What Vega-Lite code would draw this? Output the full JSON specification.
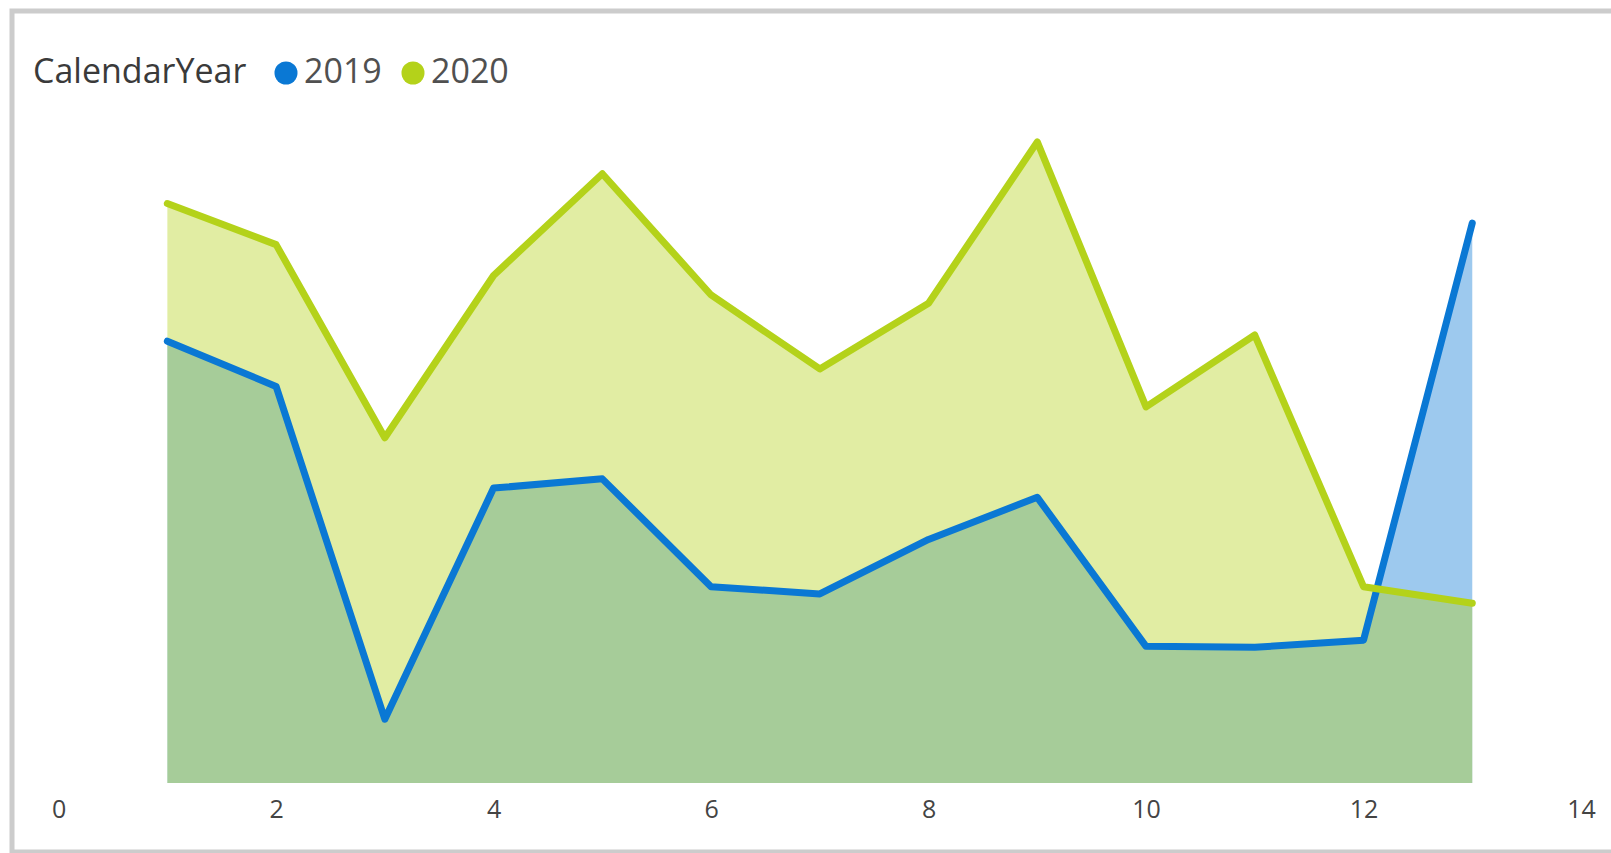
{
  "$schema": "https://vega.github.io/schema/vega-lite/v6.json",
  "width": 1605,
  "height": 841,
  "autosize": {"type": "none"},
  "padding": {"left": 12, "top": 11, "right": -6, "bottom": 1},
  "background": "#ffffff",
  "config": {
    "font": "Open Sans",
    "view": {"stroke": "#cccccc", "strokeWidth": 5}
  },
  "data": {
    "values": [
      {"Month": 1, "CalendarYear": "2019", "Sales": 430},
      {"Month": 2, "CalendarYear": "2019", "Sales": 386},
      {"Month": 3, "CalendarYear": "2019", "Sales": 62},
      {"Month": 4, "CalendarYear": "2019", "Sales": 287},
      {"Month": 5, "CalendarYear": "2019", "Sales": 296},
      {"Month": 6, "CalendarYear": "2019", "Sales": 191},
      {"Month": 7, "CalendarYear": "2019", "Sales": 184},
      {"Month": 8, "CalendarYear": "2019", "Sales": 237},
      {"Month": 9, "CalendarYear": "2019", "Sales": 278},
      {"Month": 10, "CalendarYear": "2019", "Sales": 133},
      {"Month": 11, "CalendarYear": "2019", "Sales": 132},
      {"Month": 12, "CalendarYear": "2019", "Sales": 139},
      {"Month": 13, "CalendarYear": "2019", "Sales": 545},
      {"Month": 1, "CalendarYear": "2020", "Sales": 564},
      {"Month": 2, "CalendarYear": "2020", "Sales": 524},
      {"Month": 3, "CalendarYear": "2020", "Sales": 336},
      {"Month": 4, "CalendarYear": "2020", "Sales": 494},
      {"Month": 5, "CalendarYear": "2020", "Sales": 593},
      {"Month": 6, "CalendarYear": "2020", "Sales": 475},
      {"Month": 7, "CalendarYear": "2020", "Sales": 403},
      {"Month": 8, "CalendarYear": "2020", "Sales": 467},
      {"Month": 9, "CalendarYear": "2020", "Sales": 624},
      {"Month": 10, "CalendarYear": "2020", "Sales": 366},
      {"Month": 11, "CalendarYear": "2020", "Sales": 436},
      {"Month": 12, "CalendarYear": "2020", "Sales": 191},
      {"Month": 13, "CalendarYear": "2020", "Sales": 175}
    ]
  },
  "encoding": {
    "x": {
      "field": "Month",
      "type": "quantitative",
      "scale": {"domain": [-0.4286, 14.331], "nice": false, "zero": false},
      "axis": {
        "title": null,
        "values": [0, 2, 4, 6, 8, 10, 12, 14],
        "grid": false,
        "domain": false,
        "ticks": false,
        "offset": -55,
        "labelPadding": 0,
        "labelFontSize": 25,
        "labelColor": "#444444",
        "labelFont": "Open Sans",
        "labelFlush": false
      }
    },
    "y": {
      "field": "Sales",
      "type": "quantitative",
      "stack": null,
      "scale": {"domain": [-67.2, 751.4], "nice": false, "zero": false},
      "axis": null
    },
    "color": {
      "field": "CalendarYear",
      "type": "nominal",
      "scale": {"domain": ["2019", "2020"], "range": ["#0A78D4", "#B4D21A"]},
      "legend": {
        "orient": "none",
        "legendX": 21,
        "legendY": 45,
        "direction": "horizontal",
        "titleOrient": "left",
        "title": "CalendarYear",
        "titleLimit": 500,
        "titleFontSize": 34,
        "titleFontWeight": "normal",
        "titleColor": "#3a3a3a",
        "titleFont": "Open Sans",
        "titlePadding": 22,
        "titleAnchor": "middle",
        "titleBaseline": "middle",
        "labelFontSize": 34,
        "labelColor": "#505050",
        "labelFont": "Open Sans",
        "labelOffset": 1,
        "symbolType": "circle",
        "symbolSize": 530,
        "symbolStrokeWidth": 0,
        "symbolOpacity": 1,
        "columnPadding": 14
      }
    }
  },
  "layer": [
    {"mark": {"type": "area", "opacity": 0.4, "interpolate": "linear"}},
    {"mark": {"type": "line", "strokeWidth": 7, "strokeJoin": "round", "strokeCap": "round"}}
  ]
}
